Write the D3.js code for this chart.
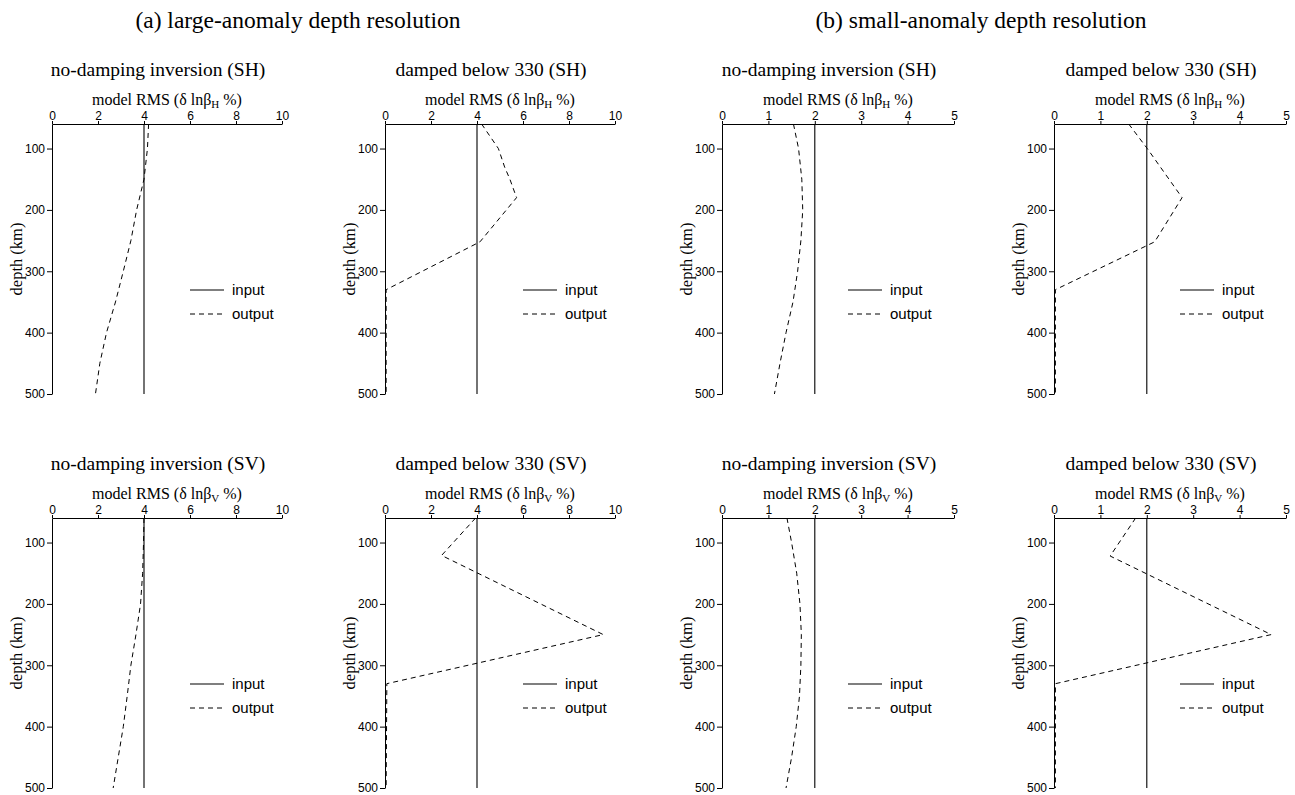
<!DOCTYPE html>
<html>
<head>
<meta charset="utf-8">
<script src="https://cdn.jsdelivr.net/npm/d3@7/dist/d3.min.js"></script>
<style>
  html, body { margin: 0; padding: 0; background: #fff; }
  svg { display: block; }
  .serif { font-family: "Liberation Serif", "Times New Roman", serif; }
  .sans { font-family: "Liberation Sans", Arial, sans-serif; }
</style>
</head>
<body>
<svg id="chart" width="1295" height="795"></svg>
<script>
// Depth range and axis ticks
const depthDomain = [60, 500];
const depthTicks = [100, 200, 300, 400, 500];
const largeRmsDomain = [0, 10];
const largeRmsTicks = [0, 2, 4, 6, 8, 10];
const smallRmsDomain = [0, 5];
const smallRmsTicks = [0, 1, 2, 3, 4, 5];

// Input anomaly amplitude (constant with depth)
const inputDepth = [60, 500];
const largeInputRms = [4, 4];
const smallInputRms = [2, 2];

// Output (recovered) RMS profiles
const shLargeNoDampDepth = [60, 100, 150, 200, 250, 300, 350, 400, 450, 500];
const shLargeNoDampRms   = [4.2, 4.15, 4.0, 3.68, 3.43, 3.1, 2.76, 2.37, 2.08, 1.89];

const shLargeDampedDepth = [60, 100, 130, 150, 180, 252, 330, 340, 500];
const shLargeDampedRms   = [4.2, 4.93, 5.2, 5.43, 5.72, 4.13, 0.05, 0.05, 0.05];

const shSmallNoDampDepth = [60, 100, 150, 200, 250, 300, 350, 400, 450, 500];
const shSmallNoDampRms   = [1.54, 1.65, 1.72, 1.74, 1.70, 1.63, 1.53, 1.38, 1.25, 1.13];

const shSmallDampedDepth = [60, 100, 180, 252, 330, 500];
const shSmallDampedRms   = [1.61, 2.01, 2.76, 2.17, 0.03, 0.03];

const svLargeNoDampDepth = [60, 100, 150, 200, 250, 300, 350, 400, 450, 500];
const svLargeNoDampRms   = [4.0, 3.98, 3.94, 3.85, 3.65, 3.43, 3.27, 3.1, 2.88, 2.66];

const svLargeDampedDepth = [60, 121, 250, 330, 500];
const svLargeDampedRms   = [3.94, 2.46, 9.49, 0.08, 0.05];

const svSmallNoDampDepth = [60, 100, 150, 200, 250, 300, 350, 400, 450, 500];
const svSmallNoDampRms   = [1.40, 1.50, 1.61, 1.68, 1.71, 1.70, 1.67, 1.60, 1.50, 1.38];

const svSmallDampedDepth = [60, 122, 250, 330, 500];
const svSmallDampedRms   = [1.76, 1.21, 4.68, 0.03, 0.03];

// Text
const groupTitles = ["(a) large-anomaly depth resolution", "(b) small-anomaly depth resolution"];
const legendLabels = ["input", "output"];

const svg = d3.select("#chart");

// Group titles
svg.append("text").attr("class", "serif")
  .attr("x", 298).attr("y", 28).attr("text-anchor", "middle")
  .attr("font-size", 23.5).text(groupTitles[0]);
svg.append("text").attr("class", "serif")
  .attr("x", 981).attr("y", 28).attr("text-anchor", "middle")
  .attr("font-size", 23.5).text(groupTitles[1]);

// Panel layout
const rowTops = [124, 518];
const rowHeight = 270;
const colLefts = [52, 385, 722, 1054];
const colWidths = [230, 230, 232, 232];

const panels = [
  { row: 0, col: 0, title: "no-damping inversion (SH)", wave: "H", domain: largeRmsDomain, ticks: largeRmsTicks,
    input: largeInputRms, outD: shLargeNoDampDepth, outV: shLargeNoDampRms, legendX: 138 },
  { row: 0, col: 1, title: "damped below 330 (SH)", wave: "H", domain: largeRmsDomain, ticks: largeRmsTicks,
    input: largeInputRms, outD: shLargeDampedDepth, outV: shLargeDampedRms, legendX: 138 },
  { row: 0, col: 2, title: "no-damping inversion (SH)", wave: "H", domain: smallRmsDomain, ticks: smallRmsTicks,
    input: smallInputRms, outD: shSmallNoDampDepth, outV: shSmallNoDampRms, legendX: 126 },
  { row: 0, col: 3, title: "damped below 330 (SH)", wave: "H", domain: smallRmsDomain, ticks: smallRmsTicks,
    input: smallInputRms, outD: shSmallDampedDepth, outV: shSmallDampedRms, legendX: 126 },
  { row: 1, col: 0, title: "no-damping inversion (SV)", wave: "V", domain: largeRmsDomain, ticks: largeRmsTicks,
    input: largeInputRms, outD: svLargeNoDampDepth, outV: svLargeNoDampRms, legendX: 138 },
  { row: 1, col: 1, title: "damped below 330 (SV)", wave: "V", domain: largeRmsDomain, ticks: largeRmsTicks,
    input: largeInputRms, outD: svLargeDampedDepth, outV: svLargeDampedRms, legendX: 138 },
  { row: 1, col: 2, title: "no-damping inversion (SV)", wave: "V", domain: smallRmsDomain, ticks: smallRmsTicks,
    input: smallInputRms, outD: svSmallNoDampDepth, outV: svSmallNoDampRms, legendX: 126 },
  { row: 1, col: 3, title: "damped below 330 (SV)", wave: "V", domain: smallRmsDomain, ticks: smallRmsTicks,
    input: smallInputRms, outD: svSmallDampedDepth, outV: svSmallDampedRms, legendX: 126 }
];

panels.forEach(p => {
  const left = colLefts[p.col];
  const top = rowTops[p.row];
  const w = colWidths[p.col];
  const g = svg.append("g").attr("transform", `translate(${left},${top})`);

  const x = d3.scaleLinear().domain(p.domain).range([0, w]);
  const y = d3.scaleLinear().domain(depthDomain).range([0, rowHeight]);

  // Panel title
  g.append("text").attr("class", "serif")
    .attr("x", w / 2 - 9).attr("y", -48).attr("text-anchor", "middle")
    .attr("font-size", 19.5).text(p.title);

  // x-axis label with subscript
  const xl = g.append("text").attr("class", "serif")
    .attr("x", w / 2).attr("y", -19).attr("text-anchor", "middle")
    .attr("font-size", 16);
  xl.append("tspan").text("model RMS (\u03b4 ln\u03b2");
  xl.append("tspan").attr("font-size", 11).attr("dy", 3).text(p.wave);
  xl.append("tspan").attr("dy", -3).text(" %)");

  // Top x-axis
  const xAxis = g.append("g")
    .call(d3.axisTop(x).tickValues(p.ticks).tickFormat(d3.format("d")).tickSize(3).tickPadding(1).tickSizeOuter(0));
  xAxis.selectAll("text").attr("class", "sans").attr("font-size", 12).attr("fill", "#000");
  xAxis.selectAll("line, path").attr("stroke", "#000");

  // Left y-axis
  const yAxis = g.append("g")
    .call(d3.axisLeft(y).tickValues(depthTicks).tickSize(5).tickPadding(2).tickSizeOuter(0));
  yAxis.selectAll("text").attr("class", "sans").attr("font-size", 12).attr("fill", "#000");
  yAxis.selectAll("line, path").attr("stroke", "#000");

  // y-axis label
  g.append("text").attr("class", "serif")
    .attr("transform", `translate(-34,${rowHeight / 2}) rotate(-90)`)
    .attr("text-anchor", "middle").attr("dominant-baseline", "middle")
    .attr("font-size", 16.5).text("depth (km)");

  const line = d3.line().x(d => x(d[0])).y(d => y(d[1]));

  // Input profile
  g.append("path")
    .datum(inputDepth.map((d, i) => [p.input[i], d]))
    .attr("d", line).attr("fill", "none").attr("stroke", "#000").attr("stroke-width", 1.1);

  // Output profile
  g.append("path")
    .datum(p.outD.map((d, i) => [p.outV[i], d]))
    .attr("d", line).attr("fill", "none").attr("stroke", "#000")
    .attr("stroke-width", 1).attr("stroke-dasharray", "5,4");

  // Legend
  const ly = [166, 190];
  const lg = g.append("g").attr("transform", `translate(${p.legendX},0)`);
  lg.append("line").attr("x1", 0).attr("x2", 34).attr("y1", ly[0]).attr("y2", ly[0])
    .attr("stroke", "#000").attr("stroke-width", 1.1);
  lg.append("line").attr("x1", 0).attr("x2", 34).attr("y1", ly[1]).attr("y2", ly[1])
    .attr("stroke", "#000").attr("stroke-width", 1).attr("stroke-dasharray", "5,4");
  legendLabels.forEach((t, i) => {
    lg.append("text").attr("class", "sans")
      .attr("x", 42).attr("y", ly[i] + 5).attr("font-size", 15).text(t);
  });
});
</script>
</body>
</html>
